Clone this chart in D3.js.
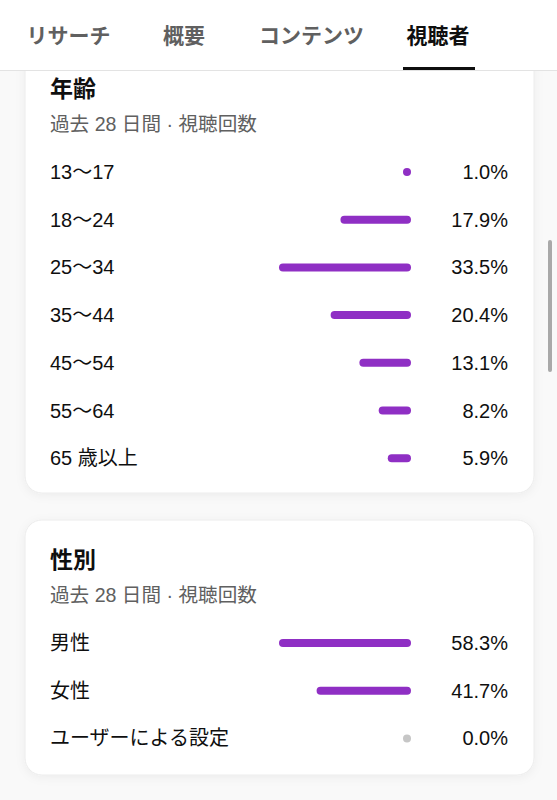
<!DOCTYPE html>
<html>
<head>
<meta charset="utf-8">
<script src="https://cdn.jsdelivr.net/npm/d3@7"></script>
<style>
  html, body { margin: 0; padding: 0; background: #f9f9f9; }
  svg { display: block; font-family: "Liberation Sans", "Noto Sans CJK JP", sans-serif; }
</style>
</head>
<body>
<div id="chart"></div>
<script>
// data
var tabs = ['リサーチ', '概要', 'コンテンツ', '視聴者'];
var activeTab = '視聴者';

var ageGroups = ['13〜17', '18〜24', '25〜34', '35〜44', '45〜54', '55〜64', '65 歳以上'];
var ageShare = [1.0, 17.9, 33.5, 20.4, 13.1, 8.2, 5.9];

var genderGroups = ['男性', '女性', 'ユーザーによる設定'];
var genderShare = [58.3, 41.7, 0.0];

var subtitle = '過去 28 日間 · 視聴回数';

var svgWidth = 557;
var svgHeight = 800;

var purple = '#8f2fc4';
var grey = '#c6c6c6';
var ink = '#0f0f0f';
var muted = '#606060';

var cardLeft = 25;
var cardWidth = 509;
var labelX = 50;
var barEnd = 411;
var barMax = 132;
var barH = 8;
var valueX = 508;

var svg = d3.select('#chart')
    .append('svg')
    .attr('width', svgWidth)
    .attr('height', svgHeight);

var defs = svg.append('defs');
var shadow = defs.append('filter')
    .attr('id', 'shadow')
    .attr('x', '-10%').attr('y', '-10%')
    .attr('width', '120%').attr('height', '120%');
shadow.append('feDropShadow')
    .attr('dx', 0).attr('dy', 2)
    .attr('stdDeviation', 5)
    .attr('flood-color', '#000')
    .attr('flood-opacity', 0.05);

// draws one card with title, subtitle and rows of bars
function drawCard(top, bottom, title, groups, shares, titleY) {
    var g = svg.append('g');

    g.append('rect')
        .attr('x', cardLeft)
        .attr('y', top)
        .attr('width', cardWidth)
        .attr('height', bottom - top)
        .attr('rx', 17)
        .attr('fill', '#fff')
        .attr('stroke', '#ececec')
        .attr('filter', 'url(#shadow)');

    g.append('text')
        .attr('x', labelX)
        .attr('y', titleY)
        .attr('dominant-baseline', 'central')
        .attr('font-size', 23)
        .attr('font-weight', 700)
        .attr('fill', ink)
        .text(title);

    g.append('text')
        .attr('x', labelX)
        .attr('y', titleY + 35)
        .attr('dominant-baseline', 'central')
        .attr('font-size', 19.6)
        .attr('fill', muted)
        .text(subtitle);

    var rows = groups.map(function(d, i) { return {label: d, value: shares[i]}; });

    var y = d3.scalePoint()
        .domain(groups)
        .range([titleY + 83, titleY + 83 + (groups.length - 1) * 47.7]);

    var x = d3.scaleLinear()
        .domain([0, d3.max(shares)])
        .range([0, barMax]);

    var row = g.selectAll('g.row')
        .data(rows)
        .enter()
        .append('g')
        .attr('class', 'row')
        .attr('transform', function(d) { return 'translate(0,' + y(d.label) + ')'; });

    row.append('text')
        .attr('x', labelX)
        .attr('dominant-baseline', 'central')
        .attr('font-size', 20)
        .attr('fill', ink)
        .text(function(d) { return d.label; });

    row.append('rect')
        .attr('x', function(d) { return barEnd - Math.max(barH, x(d.value)); })
        .attr('y', -barH / 2)
        .attr('width', function(d) { return Math.max(barH, x(d.value)); })
        .attr('height', barH)
        .attr('rx', barH / 2)
        .attr('fill', function(d) { return d.value > 0 ? purple : grey; });

    row.append('text')
        .attr('x', valueX)
        .attr('text-anchor', 'end')
        .attr('dominant-baseline', 'central')
        .attr('font-size', 20)
        .attr('fill', ink)
        .text(function(d) { return d3.format('.1f')(d.value) + '%'; });
}

drawCard(-30, 493, '年齢', ageGroups, ageShare, 89);
drawCard(520, 775, '性別', genderGroups, genderShare, 560);

// scrollbar
svg.append('rect')
    .attr('x', 548)
    .attr('y', 240)
    .attr('width', 4)
    .attr('height', 132)
    .attr('rx', 2)
    .attr('fill', '#a9a9a9');

// tab bar on top
var header = svg.append('g');
header.append('rect')
    .attr('x', 0).attr('y', 0)
    .attr('width', svgWidth).attr('height', 70)
    .attr('fill', '#fff');
header.append('line')
    .attr('x1', 0).attr('x2', svgWidth)
    .attr('y1', 70.5).attr('y2', 70.5)
    .attr('stroke', '#e3e3e3');

var tabCenters = [68.5, 184, 311.5, 438];

header.selectAll('text.tab')
    .data(tabs)
    .enter()
    .append('text')
    .attr('class', 'tab')
    .attr('x', function(d, i) { return tabCenters[i]; })
    .attr('y', 35)
    .attr('text-anchor', 'middle')
    .attr('dominant-baseline', 'central')
    .attr('font-size', 21)
    .attr('font-weight', 600)
    .attr('fill', function(d) { return d === activeTab ? ink : muted; })
    .text(function(d) { return d; });

header.append('rect')
    .attr('x', 403)
    .attr('y', 67)
    .attr('width', 72)
    .attr('height', 3)
    .attr('fill', ink);
</script>
</body>
</html>
